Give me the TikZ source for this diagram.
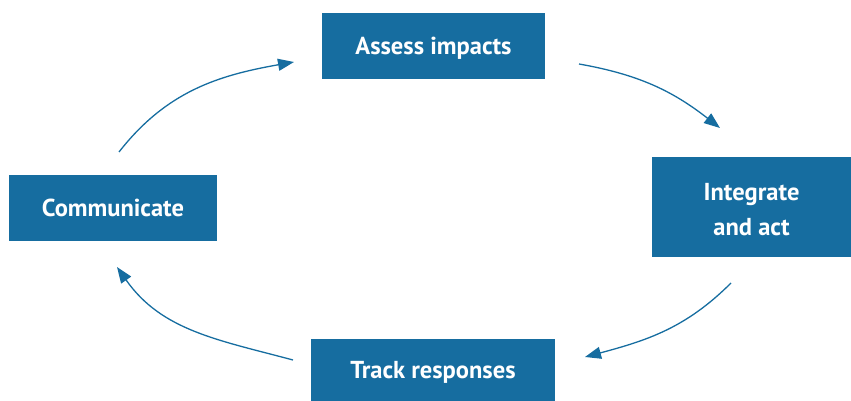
\documentclass[tikz,border=0pt]{standalone}
\usepackage{fontspec}
\setmainfont{PT Sans}
\usetikzlibrary{arrows.meta}
\definecolor{boxblue}{RGB}{22,109,160}
\begin{document}
\begin{tikzpicture}[x=1pt,y=1pt,
  box/.style={fill=boxblue, text=white, font=\bfseries\fontsize{24.5}{35}\selectfont, align=center, inner sep=0pt},
  oneline/.style={text height=17pt, text depth=0pt},
  cyc/.style={draw=boxblue, line width=1.3pt, -{Triangle[length=16pt,width=12pt]}}]
\useasboundingbox (0,0) rectangle (851,401);
\node[box, oneline, minimum width=223pt, minimum height=66pt] (assess) at (433.5,355) {Assess impacts};
\node[box, minimum width=199pt, minimum height=100pt] (integrate) at (751.5,194) {};
\node[text=white, font=\bfseries\fontsize{24.5}{35}\selectfont, align=center, inner sep=0pt] (integratetext) at (751.5,191) {Integrate\\and act};
\node[box, oneline, minimum width=208pt, minimum height=66pt] (communicate) at (113,193) {Communicate};
\node[box, oneline, minimum width=244pt, minimum height=62pt] (track) at (433,31) {Track responses};
\coordinate (s1) at (119,249);
\coordinate (e1) at (294,339);
\coordinate (s2) at (579,337);
\coordinate (e2) at (720,273);
\coordinate (s3) at (731,118);
\coordinate (e3) at (585,44);
\coordinate (s4) at (293,41);
\coordinate (e4) at (117,134);
\draw[cyc] (s1) to[out=52,in=190] (e1);
\draw[cyc] (s2) to[out=-10,in=142] (e2);
\draw[cyc] (s3) to[out=225,in=15] (e3);
\draw[cyc] (s4) to[out=165,in=-55] (e4);
\end{tikzpicture}
\end{document}
